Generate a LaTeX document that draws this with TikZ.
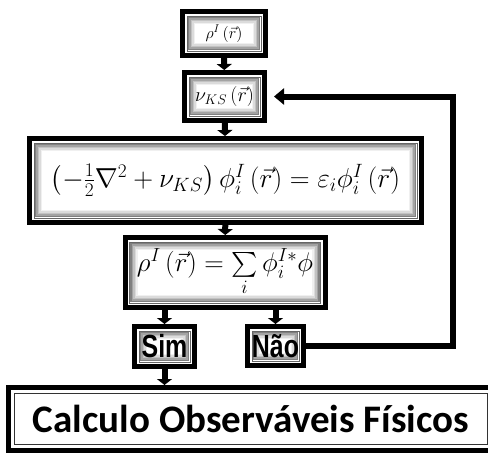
\RequirePackage{fix-cm}
\documentclass[tikz,border=0pt]{standalone}
\usepackage{amsmath}
\usepackage{fontspec}
\usepackage{tikz}
\usetikzlibrary{arrows.meta,positioning}
\newfontfamily\answerfont[FakeStretch=0.78]{Liberation Sans}
\newfontfamily\resultfont{Carlito}

\begin{document}
\begin{tikzpicture}[x=1pt,y=-1pt,
  box/.style={draw,line width=5pt,fill=white,inner sep=0pt,
    path picture={
      \foreach \d/\c in {6/50,7.5/36,9/24,10.5/14,12/6}
        \draw[black!\c,line width=1.6pt] ([shift={(\d pt,-\d pt)}]path picture bounding box.north west) rectangle ([shift={(-\d pt,\d pt)}]path picture bounding box.south east);
      \draw[black!60,line width=0.8pt] ([shift={(4.5pt,-4.5pt)}]path picture bounding box.north west) rectangle ([shift={(-4.5pt,4.5pt)}]path picture bounding box.south east);}},
  endbox/.style={draw,line width=5pt,fill=white,inner sep=0pt,
    path picture={
      \draw[black!80,line width=0.8pt] ([shift={(6pt,-6pt)}]path picture bounding box.north west) rectangle ([shift={(-6pt,6pt)}]path picture bounding box.south east);}},
  answer/.style={box,font=\answerfont\bfseries\fontsize{32}{36}\selectfont},
  arr/.style={-{Triangle[width=15pt,length=6pt]},line width=6pt},
  fb/.style={-{Triangle[width=16pt,length=10pt]},line width=6pt,shorten >=7pt}]
  \useasboundingbox (0,0) rectangle (488,453);
  \node[box,minimum width=83pt,minimum height=44pt,font=\fontsize{16}{19}\selectfont] (rho) at (224,33.5) {$\rho^{I}\left(\vec{r}\right)$};
  \node[box,minimum width=80pt,minimum height=48pt,font=\fontsize{20}{24}\selectfont] (nuks) at (224.5,96.5) {$\nu_{KS}\left(\vec{r}\right)$};
  \node[box,minimum width=392pt,minimum height=84pt,font=\fontsize{27.5}{33}\selectfont] (ks) at (225.5,180.5) {$\left(-\tfrac{1}{2}\nabla^{2}+\nu_{KS}\right)\phi_{i}^{I}\left(\vec{r}\right)=\varepsilon_{i}\phi_{i}^{I}\left(\vec{r}\right)$};
  \node[box,minimum width=200pt,minimum height=70pt,font=\fontsize{27}{32}\selectfont] (dens) at (225,272.5) {$\rho^{I}\left(\vec{r}\right)=\sum\limits_{i}\phi_{i}^{I*}\phi$};
  \node[answer,minimum width=60pt,minimum height=40pt] (sim) at (164.5,346.5) {Sim};
  \node[answer,minimum width=56pt,minimum height=39pt] (nao) at (275.5,346) {Não};
  \node[endbox,minimum width=485pt,minimum height=63pt,font=\resultfont\bfseries\fontsize{39}{45}\selectfont] (obs) at (251,419) {Calculo Observáveis Físicos};
  \coordinate (turn) at (453,96.5);
  \draw[arr] (rho) -- (nuks);
  \draw[arr] (nuks) -- (ks);
  \draw[arr] (ks) -- (dens);
  \draw[arr] (dens.south -| sim) -- (sim);
  \draw[arr] (dens.south -| nao) -- (nao);
  \draw[arr] (sim) -- (sim |- obs.north);
  \draw[fb] (nao.east) -| (turn) -- (nuks.east);
\end{tikzpicture}
\end{document}
